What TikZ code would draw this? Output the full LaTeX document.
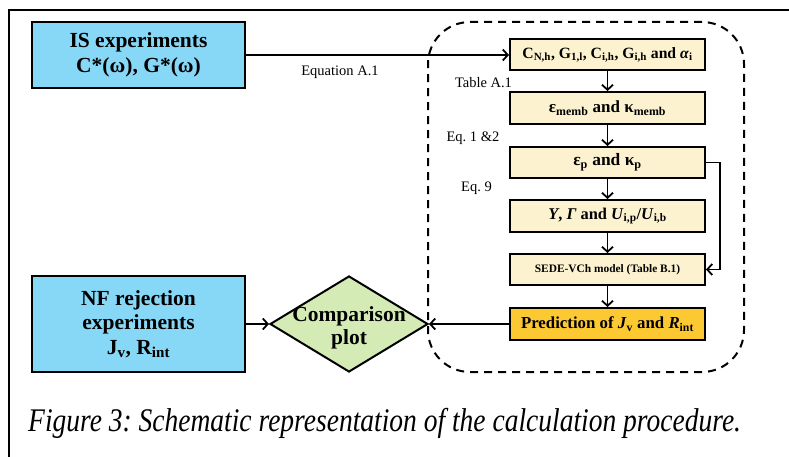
\documentclass[tikz,border=0pt]{standalone}
\usepackage{fontspec}
\setmainfont{Liberation Serif}
\usetikzlibrary{arrows.meta,shapes.geometric}
\definecolor{isblue}{HTML}{87D7F6}
\definecolor{cream}{HTML}{FDF2CF}
\definecolor{gold}{HTML}{FDC933}
\definecolor{palegreen}{HTML}{D5EBB6}
\tikzset{
  inbox/.style={draw=black, line width=2pt, fill=isblue, minimum width=213pt, inner sep=0pt, align=center, font=\fontsize{21.5}{24.5}\selectfont\bfseries},
  stepbox/.style={draw=black, line width=2pt, fill=cream, minimum width=195pt, inner sep=0pt, align=center, font=\fontsize{17}{19}\selectfont\bfseries},
  arr/.style={line width=1.8pt, -{Straight Barb[length=5pt,width=11pt,line width=1.8pt]}},
  lbl/.style={font=\fontsize{14.5}{16}\selectfont, inner sep=0pt},
}
\begin{document}
\frenchspacing
\begin{tikzpicture}[x=1pt,y=-1pt]
\useasboundingbox (0,0) rectangle (789,457);
\draw[line width=2pt] (9,457) |- (789,10);
% dashed group
\node[draw=black, dash pattern=on 8pt off 6pt, line width=2pt, rounded corners=42pt, minimum width=316pt, minimum height=350pt, inner sep=0pt] (grp) at (586,197) {};
% inputs
\node[inbox, minimum height=66pt] (is) at (138.5,55) {IS experiments\\C*(ω), G*(ω)};
\node[inbox, minimum height=96pt] (nf) at (138.5,324) {NF rejection\\experiments\\J\textsubscript{v}, R\textsubscript{int}};
% diamond
\node[diamond, draw=black, line width=2pt, fill=palegreen, minimum width=158pt, minimum height=96pt, inner sep=0pt] (cmp) at (349,324) {};
\node[font=\fontsize{21.5}{23}\selectfont\bfseries, align=center, inner sep=0pt] (cmpt) at (349,328) {Comparison\\plot};
% steps
\node[stepbox, minimum height=31pt, font=\fontsize{15.7}{17}\selectfont\bfseries] (b1) at (607.5,55) {C\textsubscript{N,h}, G\textsubscript{1,l}, C\textsubscript{i,h}, G\textsubscript{i,h} and \textit{α}\textsubscript{i}};
\node[stepbox, minimum height=32pt] (b2) at (607.5,108) {ε\textsubscript{memb} and κ\textsubscript{memb}};
\node[stepbox, minimum height=31pt, font=\fontsize{17.4}{19}\selectfont\bfseries] (b3) at (607.5,162.5) {ε\textsubscript{p} and κ\textsubscript{p}};
\node[stepbox, minimum height=32pt, font=\fontsize{16.4}{19}\selectfont\bfseries] (b4) at (607.5,216) {\textit{Y}, \textit{Γ} and \textit{U}\textsubscript{i,p}/\textit{U}\textsubscript{i,b}};
\node[stepbox, minimum height=31pt, font=\fontsize{11.4}{13}\selectfont\bfseries] (b5) at (607.5,269.5) {SEDE-VCh model (Table B.1)};
\node[stepbox, fill=gold, minimum height=32pt, font=\fontsize{16.8}{19}\selectfont\bfseries] (b6) at (607.5,324) {Prediction of \textit{J}\textsubscript{v} and \textit{R}\textsubscript{int}};
% labels
\node[lbl] (l1) at (340,72) {Equation A.1};
\node[lbl] (l2) at (483.5,83) {Table A.1};
\node[lbl] (l3) at (473,138) {Eq. 1 \&2};
\node[lbl] (l4) at (476.5,188) {Eq. 9};
% connectors
\draw[arr] (is.east) -- (b1.west);
\draw[arr] (b1) -- (b2);
\draw[arr] (b2) -- (b3);
\draw[arr] (b3) -- (b4);
\draw[arr] (b4) -- (b5);
\draw[arr] (b5) -- (b6);
\draw[arr] (b3.east) -- ++(14,0) |- (b5.east);
\draw[arr] (b6.west) -- (cmp.east);
\draw[arr] (nf.east) -- (cmp.west);
% caption
\node[anchor=base west, inner sep=0pt, font=\fontsize{27.5}{30}\selectfont\itshape] (cap) at (28,431) {\scalebox{1}[1.2]{Figure 3: Schematic representation of the calculation procedure.}};
\end{tikzpicture}
\end{document}
